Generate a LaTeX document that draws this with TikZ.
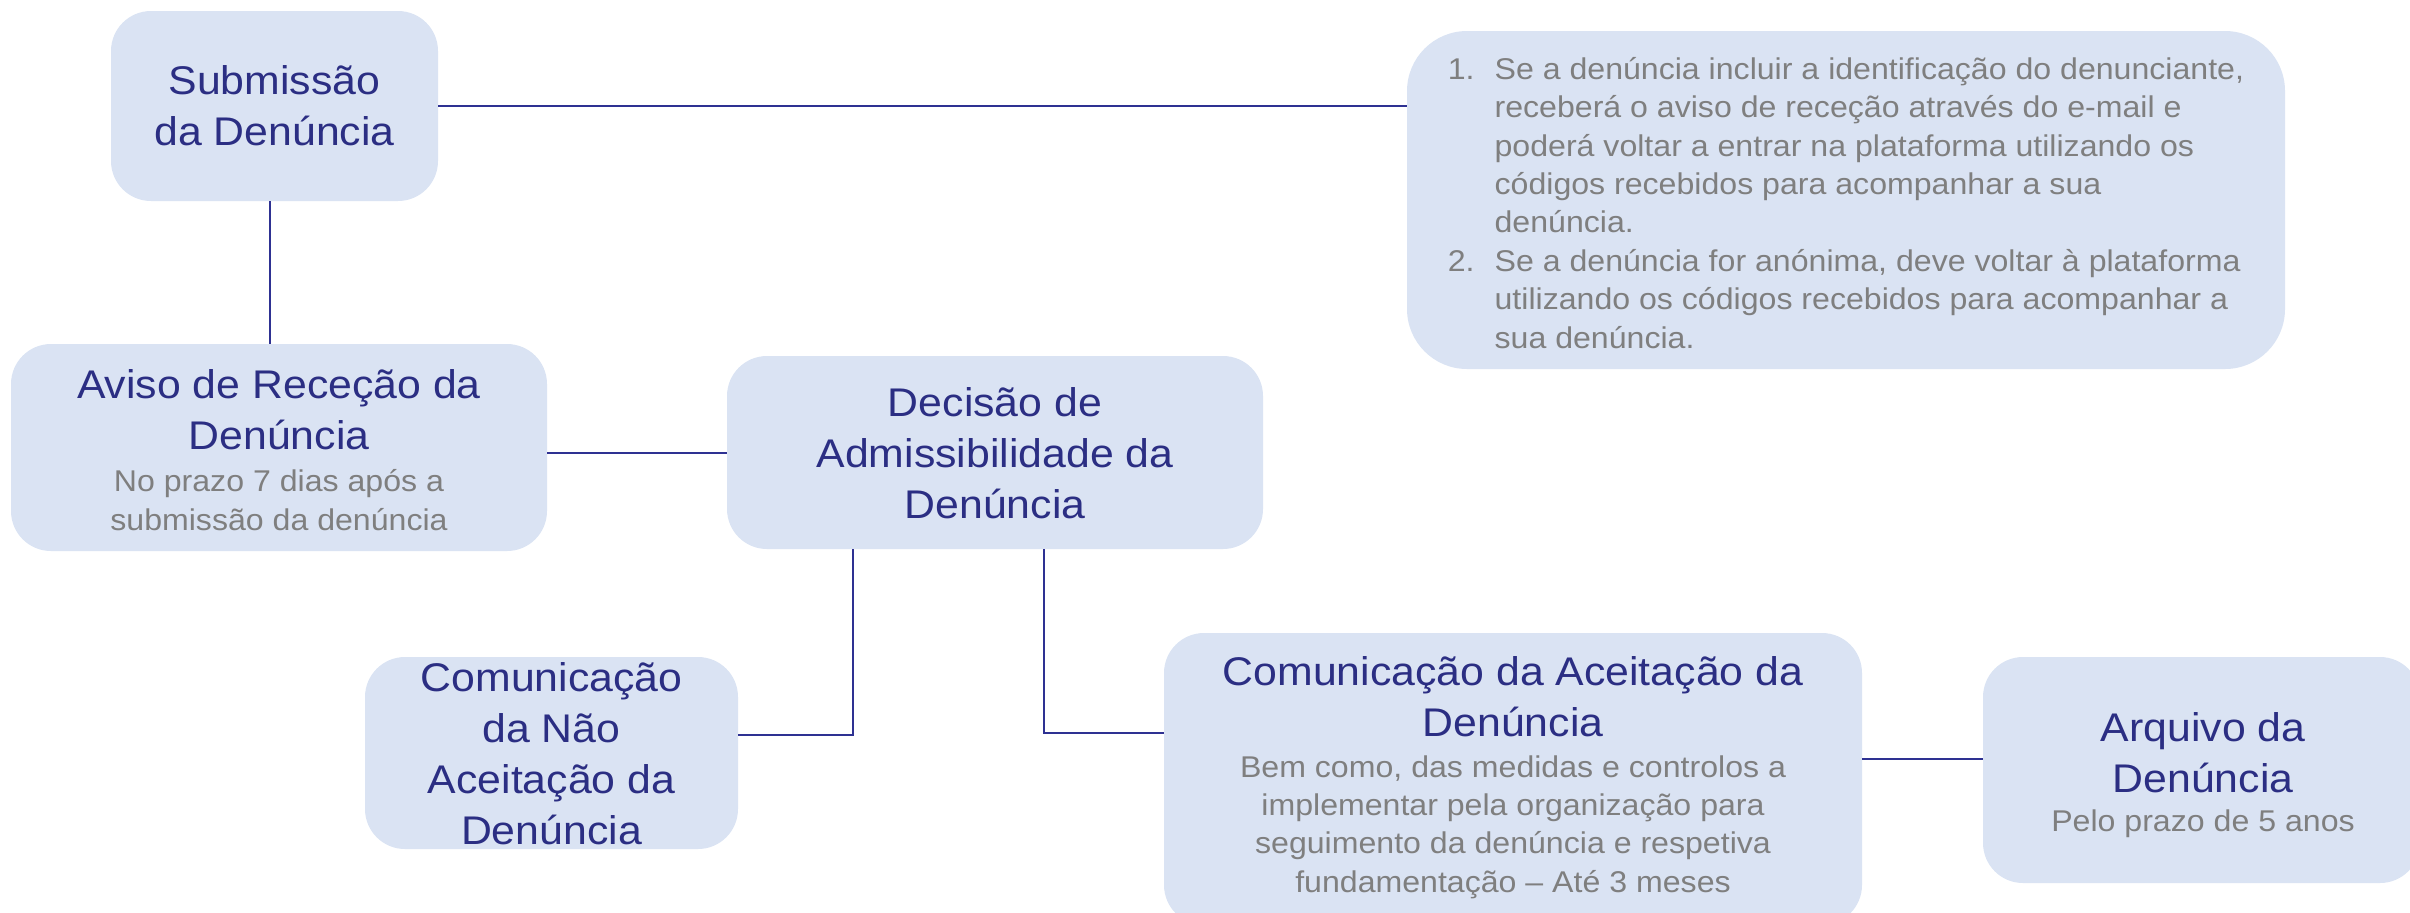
\documentclass[tikz,border=0pt]{standalone}
\usepackage{fontspec}
\setmainfont{Liberation Sans}[FakeStretch=1.07]
\definecolor{boxfill}{HTML}{DAE3F3}
\definecolor{titlec}{HTML}{2B2E83}
\definecolor{subc}{HTML}{7F7F7F}
\definecolor{linec}{HTML}{2E3192}
\begin{document}
\begin{tikzpicture}[x=0.5pt,y=-0.5pt,
  box/.style={fill=boxfill,draw=none,rounded corners=20pt,inner sep=0pt},
  titletext/.style={text=titlec,align=center,inner sep=0pt,font=\fontsize{20}{25.5}\selectfont},
  subtext/.style={text=subc,align=center,inner sep=0pt,font=\fontsize{15}{19.2}\selectfont},
  conn/.style={draw=linec,line width=1pt}]
\useasboundingbox (0,0) rectangle (2410,912);
% boxes
\node[box,minimum width=163.5pt,minimum height=95pt] (sub) at (274.5,106) {};
\node[box,rounded corners=30pt,minimum width=439pt,minimum height=169pt] (notes) at (1846,200) {};
\node[box,minimum width=268pt,minimum height=103.5pt] (aviso) at (279,447.5) {};
\node[box,minimum width=268pt,minimum height=96.5pt] (dec) at (995,452.5) {};
\node[box,minimum width=186.5pt,minimum height=96pt] (nao) at (551.5,753) {};
\node[box,minimum width=349pt,minimum height=146pt] (acc) at (1513,779) {};
\node[box,minimum width=218.5pt,minimum height=113pt] (arq) at (2201.5,770) {};
% connectors
\coordinate (c0) at (270,300);
\coordinate (c1) at (853,735);
\coordinate (c2) at (1044,733);
\coordinate (c3) at (1920,759);
\draw[conn] (sub.east) -- (sub.east -| notes.west);
\draw[conn] (c0 |- sub.south) -- (c0 |- aviso.north);
\draw[conn] (aviso.east |- dec.west) -- (dec.west);
\draw[conn] (c1 |- dec.south) -- (c1) -- (c1 -| nao.east);
\draw[conn] (c2 |- dec.south) -- (c2) -- (c2 -| acc.west);
\draw[conn] (c3 -| acc.east) -- (c3 -| arq.west);
% texts
\node[titletext] (subT) at (274.5,106) {Submissão\\da Denúncia};
\node[subtext,align=left] (notesT) at (1846,206) {%
\begin{tabular}{@{}r@{\hspace{10pt}}l@{}}
1. & Se a denúncia incluir a identificação do denunciante,\\
 & receberá o aviso de receção através do e-mail e\\
 & poderá voltar a entrar na plataforma utilizando os\\
 & códigos recebidos para acompanhar a sua\\
 & denúncia.\\
2. & Se a denúncia for anónima, deve voltar à plataforma\\
 & utilizando os códigos recebidos para acompanhar a\\
 & sua denúncia.
\end{tabular}};
\node[titletext] (avisoT) at (279,410) {Aviso de Receção da\\Denúncia};
\node[subtext] (avisoS) at (279,500) {No prazo 7 dias após a\\submissão da denúncia};
\node[titletext] (decT) at (995,453) {Decisão de\\Admissibilidade da\\Denúncia};
\node[titletext] (naoT) at (551.5,754) {Comunicação\\da Não\\Aceitação da\\Denúncia};
\node[titletext] (accT) at (1513,697) {Comunicação da Aceitação da\\Denúncia};
\node[subtext] (accS) at (1513,827) {Bem como, das medidas e controlos a\\implementar pela organização para\\seguimento da denúncia e respetiva\\fundamentação – Até 3 meses};
\node[titletext] (arqT) at (2203,753) {Arquivo da\\Denúncia};
\node[subtext] (arqS) at (2203,824) {Pelo prazo de 5 anos};
\end{tikzpicture}
\end{document}
